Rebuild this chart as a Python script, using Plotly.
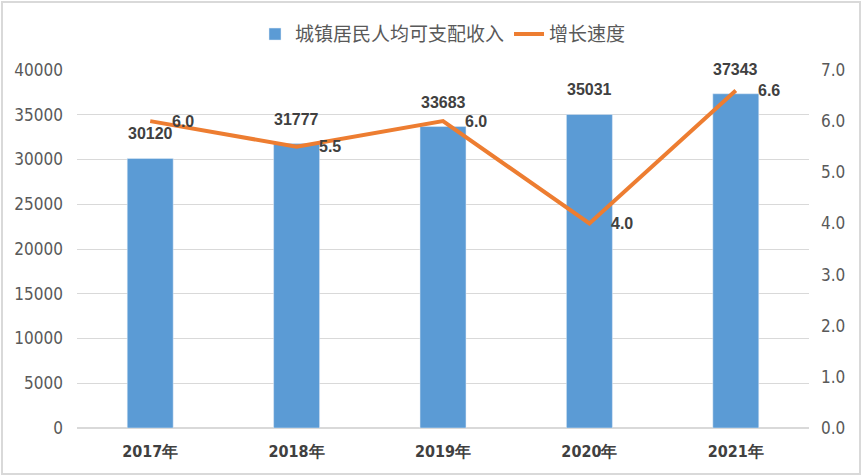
"""城镇居民人均可支配收入 及 增长速度 (2017-2021)"""

import plotly.graph_objects as go

# data
years = ["2017年", "2018年", "2019年", "2020年", "2021年"]
income = [30120, 31777, 33683, 35031, 37343]
growth = [6.0, 5.5, 6.0, 4.0, 6.6]

left_ticks = list(range(0, 40001, 5000))
right_ticks = [0, 1, 2, 3, 4, 5, 6, 7]

font_axis = "DejaVu Sans Condensed, Liberation Sans Narrow, Liberation Sans, sans-serif"
font_label = "Liberation Sans, Arial, sans-serif"
label_style = dict(family=font_label, size=16, color="#404040", weight="bold")

fig = go.Figure()
fig.add_trace(
    go.Bar(
        x=years,
        y=income,
        name="城镇居民人均可支配收入",
        marker_color="#5B9BD5",
        width=0.314,
    )
)
fig.add_trace(
    go.Scatter(
        x=years,
        y=growth,
        name="增长速度",
        yaxis="y2",
        mode="lines",
        line=dict(color="#ED7D31", width=4),
    )
)

# data labels
for yr, v in zip(years, income):
    fig.add_annotation(
        x=yr, y=v, xref="x", yref="y", text=str(v), showarrow=False,
        yanchor="bottom", yshift=14, font=label_style,
    )
for yr, v in zip(years, growth):
    fig.add_annotation(
        x=yr, y=v, xref="x", yref="y2", text="%.1f" % v, showarrow=False,
        xanchor="left", xshift=20, font=label_style,
    )

fig.update_layout(
    width=862,
    height=476,
    paper_bgcolor="white",
    plot_bgcolor="white",
    margin=dict(l=77, r=53, t=70, b=48, autoexpand=False),
    showlegend=True,
    legend=dict(
        orientation="h",
        x=0.5,
        xanchor="center",
        y=1.10,
        yanchor="middle",
        font=dict(family="Noto Sans CJK SC, sans-serif", size=19, color="#595959"),
    ),
    xaxis=dict(
        showgrid=False,
        showline=False,
        ticks="",
        tickfont=dict(family=font_axis, size=16, color="#404040", weight="bold"),
        ticklabelstandoff=12,
    ),
    yaxis=dict(
        range=[0, 40000],
        tickvals=left_ticks,
        tickformat="d",
        showgrid=True,
        gridcolor="#D9D9D9",
        gridwidth=1,
        zeroline=True,
        zerolinecolor="#D9D9D9",
        showline=False,
        tickfont=dict(family=font_axis, size=17, color="#595959"),
        ticklabelstandoff=13,
    ),
    yaxis2=dict(
        range=[0, 7],
        tickvals=right_ticks,
        tickformat=".1f",
        overlaying="y",
        side="right",
        showgrid=False,
        zeroline=False,
        showline=False,
        tickfont=dict(family=font_axis, size=17, color="#595959"),
        ticklabelstandoff=11,
    ),
)

# chart frame
fig.add_shape(
    type="rect",
    xref="paper",
    yref="paper",
    x0=-75 / 732,
    x1=1 + 51 / 732,
    y0=-46 / 358,
    y1=1 + 68 / 358,
    line=dict(color="#D9D9D9", width=2),
    layer="above",
)

# the page's default 8px body margin would shift the figure
fig.write_html(
    "out.html",
    config={"displayModeBar": False},
    post_script="document.body.style.margin='0';",
)
